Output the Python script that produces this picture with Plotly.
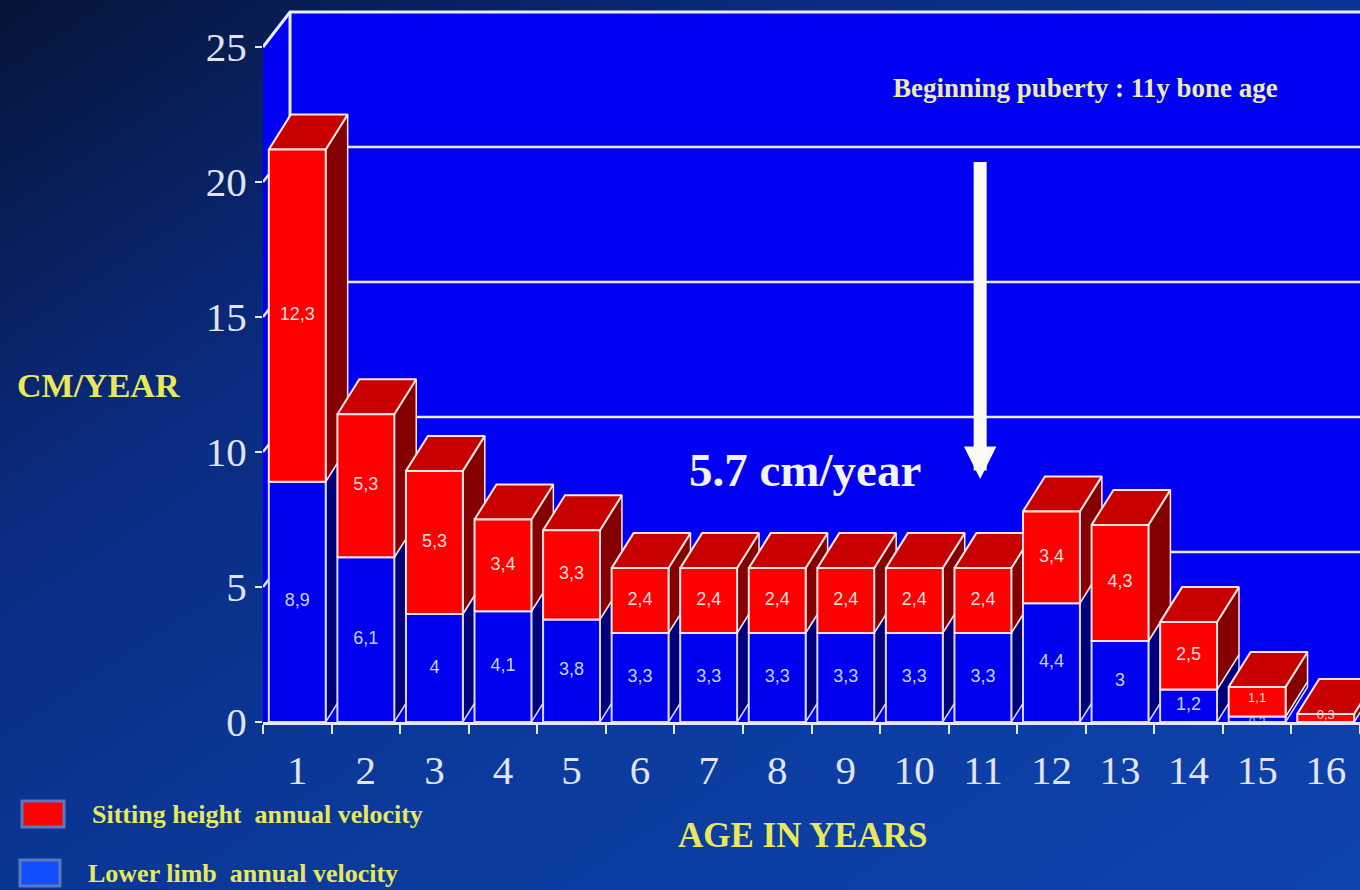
import base64
import plotly.graph_objects as go

# ---------------- data ----------------
ages = list(range(1, 17))
lower_limb = [8.9, 6.1, 4.0, 4.1, 3.8, 3.3, 3.3, 3.3, 3.3, 3.3, 3.3, 4.4, 3.0, 1.2, 0.2, 0.0]
sitting_height = [12.3, 5.3, 5.3, 3.4, 3.3, 2.4, 2.4, 2.4, 2.4, 2.4, 2.4, 3.4, 4.3, 2.5, 1.1, 0.3]
y_ticks = [0, 5, 10, 15, 20, 25]
series_names = ["Sitting height  annual velocity", "Lower limb  annual velocity"]
puberty_note = "Beginning puberty : 11y bone age"
velocity_note = "5.7 cm/year"
arrow_age = 10.96
arrow_from, arrow_to = 20.8, 9.0

# ---------------- style / geometry ----------------
W, H = 1360, 890
ML, MR, MT, MB = 263, 0, 10, 168
PW, PH = W - ML - MR, H - MT - MB
Y_MAX = 26.37
BAR_W = 0.83
DXB, DYB = 0.32, 1.296      # bar depth offset (data units)
DXW, DYW = 0.394, 1.296     # wall depth offset
X_END = 17.2

WALL = "#0000f2"
RED_F, RED_T, RED_S = "#ff0000", "#c80000", "#850000"
BLU_F, BLU_S = "#0000f0", "#00007a"
EDGE = "#ffe4e4"
EDGE_B = "#d8d8ff"
GRID = "#e8ecff"
YELLOW = "#e8e85a"
SERIF = "Liberation Serif"


def fmt(v):
    return f"{v:g}".replace(".", ",")


def px2paper(px, py):
    return (px - ML) / PW, (H - MB - py) / PH


fig = go.Figure()


def poly(xs, ys, fill, line=None, lw=0):
    fig.add_trace(go.Scatter(
        x=xs, y=ys, mode="lines", fill="toself", fillcolor=fill,
        line=dict(color=line or fill, width=lw), hoverinfo="skip", showlegend=False))


def lines(xs, ys, color, width):
    fig.add_trace(go.Scatter(
        x=xs, y=ys, mode="lines", line=dict(color=color, width=width),
        hoverinfo="skip", showlegend=False))


# back + side wall
top = y_ticks[-1] + DYW
poly([0.5, 0.5, 0.5 + DXW, X_END, X_END, 0.5],
     [0, y_ticks[-1], top, top, 0, 0], WALL)

# gridlines on the walls
gx, gy = [], []
for v in y_ticks[1:-1]:
    gx += [0.5, 0.5 + DXW, X_END, None]
    gy += [v, v + DYW, v + DYW, None]
lines(gx, gy, GRID, 2.5)
# wall outline
lines([0.5 + DXW, 0.5 + DXW, None, 0.5, 0.5 + DXW, X_END],
      [DYW, top, None, y_ticks[-1], top, top], GRID, 3)

# bars (drawn left to right so that each bar hides the side of the previous)
lab_x, lab_y, lab_t, lab_c, lab_s = [], [], [], [], []
for a, lo, si in zip(ages, lower_limb, sitting_height):
    L, R = a - BAR_W / 2, a + BAR_W / 2
    b, t = lo, lo + si
    if lo > 0:
        poly([R, R + DXB, R + DXB, R, R], [0, DYB, b + DYB, b, 0], BLU_S, EDGE_B, 1.5)
    poly([R, R + DXB, R + DXB, R, R], [b, b + DYB, t + DYB, t, b], RED_S, EDGE, 1.5)
    poly([L, L + DXB, R + DXB, R, L], [t, t + DYB, t + DYB, t, t], RED_T, EDGE, 2)
    if lo > 0:
        poly([L, R, R, L, L], [0, 0, b, b, 0], BLU_F, EDGE_B, 2)
    poly([L, R, R, L, L], [b, b, t, t, b], RED_F, EDGE, 2)
    small = t < 2
    if lo > 0:
        lab_x.append(a); lab_y.append(b / 2 - (0.15 if small else 0))
        lab_t.append(fmt(lo)); lab_c.append("#c8d0ff"); lab_s.append(12 if small else 18)
    lab_x.append(a); lab_y.append((b + t) / 2 + (0.1 if small else 0))
    lab_t.append(fmt(si)); lab_c.append("#ffdede"); lab_s.append(13 if small else 18)

fig.add_trace(go.Scatter(
    x=lab_x, y=lab_y, text=lab_t, mode="text",
    textfont=dict(family="Liberation Sans", size=lab_s, color=lab_c),
    hoverinfo="skip", showlegend=False))

# ---------------- axes ----------------
fig.update_xaxes(
    range=[0.5, 16.5], tickvals=ages, ticktext=[str(a) for a in ages],
    ticks="", ticklabelstandoff=10,
    tickfont=dict(family=SERIF, size=41, color="#e2e4f4"),
    showgrid=False, zeroline=False, showline=True, linecolor="#e4e8ff", linewidth=3,
    minor=dict(tickvals=[a + 0.5 for a in [0] + ages], ticks="outside", ticklen=9,
               tickwidth=2, tickcolor="#e4e8ff", showgrid=False),
)
fig.update_yaxes(
    range=[0, Y_MAX], tickvals=y_ticks, ticks="outside", ticklen=7, tickwidth=2,
    tickcolor="#e4e8ff", tickfont=dict(family=SERIF, size=41, color="#e2e4f4"),
    showgrid=False, zeroline=False, showline=False, ticklabelstandoff=0,
)

# ---------------- annotations ----------------
ann = []


def text(s, px, py, size, color, anchor="center"):
    x, y = px2paper(px, py)
    ann.append(dict(text=f"<b>{s}</b>", x=x, y=y, xref="paper", yref="paper",
                    xanchor=anchor, yanchor="middle", showarrow=False,
                    font=dict(family=SERIF, size=size, color=color)))


text("CM/YEAR", 98, 385, 34, YELLOW)
text("AGE IN YEARS", 803, 835, 35, YELLOW)
text(puberty_note, 1085, 88, 27, "#ececa8")
text(velocity_note, 805, 470, 47, "#f2f2f2")
ann.append(dict(x=arrow_age, y=arrow_to, ax=arrow_age, ay=arrow_from, xref="x", yref="y",
                axref="x", ayref="y", showarrow=True, arrowhead=2, arrowsize=0.5,
                arrowwidth=13, arrowcolor="#fafaf0", text=""))
text(series_names[0], 90, 814, 26, YELLOW, "left")
text(series_names[1], 86, 873, 26, YELLOW, "left")

shapes = []
for (fillc, sq) in [(RED_F, (22, 801, 64, 827)), ("#1250ff", (20, 860, 60, 886))]:
    x0, y0 = px2paper(sq[0], sq[3])
    x1, y1 = px2paper(sq[2], sq[1])
    shapes.append(dict(type="rect", xref="paper", yref="paper", x0=x0, y0=y0, x1=x1, y1=y1,
                       fillcolor=fillc, line=dict(color="#5a78c0", width=3)))

# background gradient as inline svg
svg = f"""<svg xmlns='http://www.w3.org/2000/svg' width='{W}' height='{H}'>
<defs><linearGradient id='g' x1='0' y1='0' x2='1' y2='1'>
<stop offset='0' stop-color='#061438'/><stop offset='0.3' stop-color='#0a2c80'/>
<stop offset='0.6' stop-color='#0b3a9c'/><stop offset='1' stop-color='#0e44ae'/>
</linearGradient></defs><rect width='{W}' height='{H}' fill='url(#g)'/></svg>"""
src = "data:image/svg+xml;base64," + base64.b64encode(svg.encode()).decode()
x0, y0 = px2paper(0, 0)

fig.update_layout(
    width=W, height=H, margin=dict(l=ML, r=MR, t=MT, b=MB),
    paper_bgcolor="#0b3592", plot_bgcolor="rgba(0,0,0,0)",
    annotations=ann, shapes=shapes, showlegend=False,
    images=[dict(source=src, xref="paper", yref="paper", x=x0, y=y0,
                 sizex=W / PW, sizey=H / PH, xanchor="left", yanchor="top",
                 sizing="stretch", layer="below")],
)

fig.write_html("out.html", config={"displayModeBar": False},
               post_script="document.body.style.margin='0';document.body.style.overflow='hidden';")
